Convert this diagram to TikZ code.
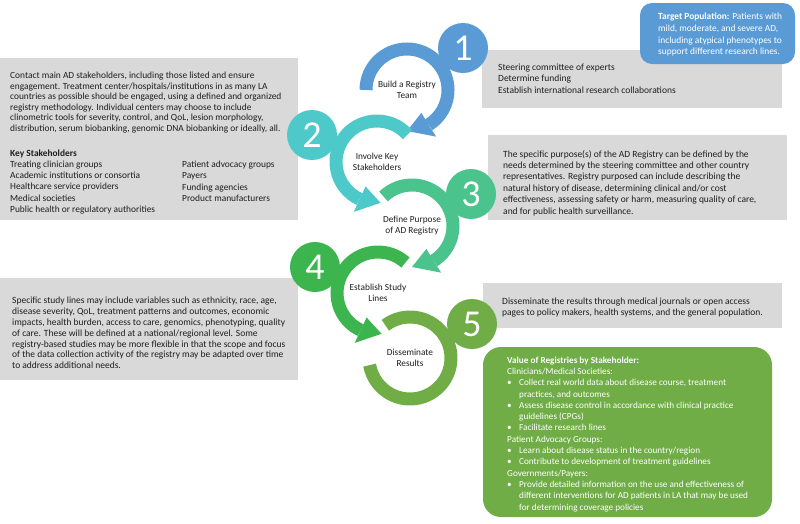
\documentclass[tikz,border=0pt]{standalone}
\usepackage{fontspec}
\setmainfont{Carlito}
\usetikzlibrary{calc}
\definecolor{cblue}{HTML}{5B9BD5}
\definecolor{cteal}{HTML}{4DC9C9}
\definecolor{cmint}{HTML}{4BC38D}
\definecolor{cgreen}{HTML}{3DB54E}
\definecolor{colive}{HTML}{70AD47}
\definecolor{cgray}{HTML}{D9D9D9}
\definecolor{ctext}{HTML}{1E1E1E}
\tikzset{
  band/.style={line width=13pt},
  numc/.style={circle, minimum size=50pt, inner sep=0pt, text=white, font=\fontsize{38}{38}\selectfont},
  lbl/.style={align=center, font=\fontsize{9.3}{11}\selectfont, text=ctext},
  txt/.style={align=left, anchor=north west, inner sep=0pt, text=ctext},
}
\newcommand\myring[5]{%
  \draw[band, #2] ($(#1)+(#3:41)$) arc[start angle=#3, end angle=#4, radius=41];
  \fill[#2] ($(#1)+(#4:27)$) -- ($(#1)+(#4:55)$) -- ($(#1)+(#5:41)$) -- cycle;
}
\newcommand\bul{\makebox[12pt][l]{\textbullet}}
\newcommand\ind{\hspace*{12pt}}
\begin{document}
\begin{tikzpicture}[x=1pt,y=-1pt]
\useasboundingbox (0,0) rectangle (800,523);
% boxes
\fill[cgray] (0,58) rectangle (298,220);
\fill[cgray] (482,50) rectangle (782,108);
\fill[cgray] (488,135) rectangle (787,220);
\fill[cgray] (0,278) rectangle (298,380);
\fill[cgray] (483,283) rectangle (782,328);
\fill[cblue, rounded corners=12pt] (640,3) rectangle (795,64);
\fill[colive, rounded corners=18pt] (483,347) rectangle (772,517);

% ring centres
\coordinate (R1) at (407,90);
\coordinate (R2) at (377,162);
\coordinate (R3) at (412,226);
\coordinate (R4) at (378,293);
\coordinate (R5) at (410,358);

\myring{R1}{cblue}{180}{418}{450}
\node[numc, fill=cblue] (N1) at (463,48) {1};
\myring{R2}{cteal}{-42}{-245}{-275}
\node[numc, fill=cteal] (N2) at (312,135) {2};
\myring{R3}{cmint}{-134}{58}{90}
\node[numc, fill=cmint] (N3) at (471,194) {3};
\myring{R4}{cgreen}{-48}{-245}{-275}
\node[numc, fill=cgreen] (N4) at (315,267) {4};
\draw[band, colive] ($(R5)+(-127:41)$) arc[start angle=-127, end angle=170, radius=41];
\node[numc, fill=colive] (N5) at (472,324) {5};

\node[lbl] (T1) at (R1) {Build a Registry\\Team};
\node[lbl] (T2) at (R2) {Involve Key\\Stakeholders};
\node[lbl] (T3) at (R3) {Define Purpose\\of AD Registry};
\node[lbl] (T4) at (R4) {Establish Study\\Lines};
\node[lbl] (T5) at (R5) {Disseminate\\Results};

% texts
\node[txt, font=\fontsize{9.4}{10.5}\selectfont] (P1) at (10,72) {Contact main AD stakeholders, including those listed and ensure\\
engagement. Treatment center/hospitals/institutions in as many LA\\
countries as possible should be engaged, using a defined and organized\\
registry methodology. Individual centers may choose to include\\
clinometric tools for severity, control, and QoL, lesion morphology,\\
distribution, serum biobanking, genomic DNA biobanking or ideally, all.};
\node[txt, font=\fontsize{9.4}{11.2}\selectfont] (K1) at (10,149.5) {\textbf{Key Stakeholders}\\
Treating clinician groups\\
Academic institutions or consortia\\
Healthcare service providers\\
Medical societies\\
Public health or regulatory authorities};
\node[txt, font=\fontsize{9.4}{11.2}\selectfont] (K2) at (182,161) {Patient advocacy groups\\
Payers\\
Funding agencies\\
Product manufacturers};
\node[txt, font=\fontsize{9.5}{11.5}\selectfont] (S1) at (498,63.5) {Steering committee of experts\\
Determine funding\\
Establish international research collaborations};
\node[txt, font=\fontsize{9.5}{11.4}\selectfont] (S3) at (503,150) {The specific purpose(s) of the AD Registry can be defined by the\\
needs determined by the steering committee and other country\\
representatives. Registry purposed can include describing the\\
natural history of disease, determining clinical and/or cost\\
effectiveness, assessing safety or harm, measuring quality of care,\\
and for public health surveillance.};
\node[txt, font=\fontsize{9.5}{10.8}\selectfont] (S4) at (12,297) {Specific study lines may include variables such as ethnicity, race, age,\\
disease severity, QoL, treatment patterns and outcomes, economic\\
impacts, health burden, access to care, genomics, phenotyping, quality\\
of care. These will be defined at a national/regional level. Some\\
registry-based studies may be more flexible in that the scope and focus\\
of the data collection activity of the registry may be adapted over time\\
to address additional needs.};
\node[txt, font=\fontsize{9.5}{11.5}\selectfont] (S5) at (502,297.5) {Disseminate the results through medical journals or open access\\
pages to policy makers, health systems, and the general population.};
\node[txt, text=white, font=\fontsize{9.4}{11.7}\selectfont] (TP) at (658,13) {\textbf{Target Population:} Patients with\\
mild, moderate, and severe AD,\\
including atypical phenotypes to\\
support different research lines.};
\node[txt, text=white, font=\fontsize{9.2}{11.3}\selectfont] (VR) at (507,356.5) {\textbf{Value of Registries by Stakeholder:}\\
Clinicians/Medical Societies:\\
\bul Collect real world data about disease course, treatment\\
\ind practices, and outcomes\\
\bul Assess disease control in accordance with clinical practice\\
\ind guidelines (CPGs)\\
\bul Facilitate research lines\\
Patient Advocacy Groups:\\
\bul Learn about disease status in the country/region\\
\bul Contribute to development of treatment guidelines\\
Governments/Payers:\\
\bul Provide detailed information on the use and effectiveness of\\
\ind different interventions for AD patients in LA that may be used\\
\ind for determining coverage policies};
\end{tikzpicture}
\end{document}
